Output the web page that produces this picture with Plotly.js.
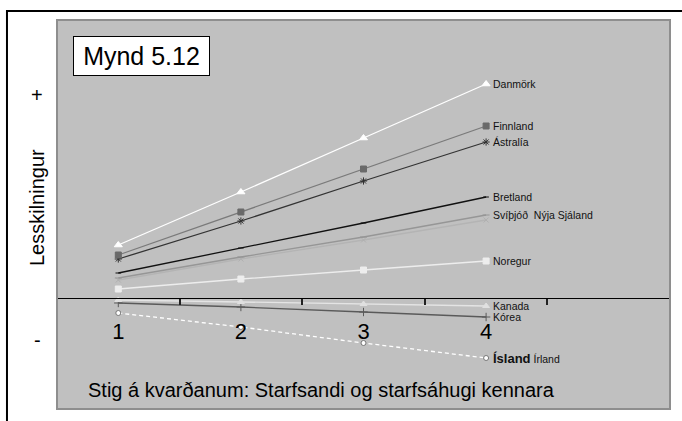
<!DOCTYPE html>
<html>
<head>
<meta charset="utf-8">
<script src="https://cdn.plot.ly/plotly-3.0.1.min.js"></script>
<style>
  html, body { margin: 0; padding: 0; background: #fff; }
  #chart { width: 682px; height: 421px; }
</style>
</head>
<body>
<div id="chart"></div>
<script>
// scale steps on the x axis
let steps = [1, 2, 3, 4];
let stepLabels = ["1", "2", "3", "4"];

// reading score change per country (relative units, 0 = axis)
let danmork = [53, 106, 160, 214];
let finnland = [43, 86, 129, 172];
let astralia = [39, 77, 117, 156];
let bretland = [25, 50, 75, 101];
let svithjod = [20, 41, 61, 83];
let nyjaSjaland = [18, 39, 58, 78];
let noregur = [9, 19, 28, 37];
let kanada = [-2, -4, -6, -8];
let korea = [-5, -9, -14, -19];
let island = [-15, -29, -45, -60];

let font = "Liberation Sans, Arial, sans-serif";

function line(name, y, color, dash, symbol, msize, mcolor, mline) {
  return {
    x: steps, y: y, name: name, type: "scatter", mode: "lines+markers",
    line: { color: color, width: 1.3, dash: dash || "solid" },
    marker: { symbol: symbol, size: msize, color: mcolor,
              line: { color: mline || mcolor, width: 1 } },
  };
}

let data = [
  line("Ísland", island, "#ffffff", "4px,3px", "circle", 5, "#ffffff", "#777777"),
  line("Kórea", korea, "#5a5a5a", null, "cross-thin-open", 6, "#5a5a5a"),
  line("Kanada", kanada, "#e4e4e4", null, "triangle-up", 6, "#e0e0e0"),
  line("Noregur", noregur, "#ededed", null, "square", 6, "#ededed"),
  line("Nýja Sjáland", nyjaSjaland, "#b4b4b4", null, "x-thin-open", 5, "#b0b0b0"),
  line("Svíþjóð", svithjod, "#969696", null, "line-ew-open", 5, "#969696"),
  line("Bretland", bretland, "#111111", null, "line-ew-open", 4, "#111111"),
  line("Ástralía", astralia, "#333333", null, "asterisk-open", 6, "#333333"),
  line("Finnland", finnland, "#7a7a7a", null, "square", 6, "#6a6a6a"),
  line("Danmörk", danmork, "#ffffff", null, "triangle-up", 7, "#ffffff"),
];

// end labels
let endLabels = [
  [danmork, "Danmörk"],
  [finnland, "Finnland"],
  [astralia, "Ástralía"],
  [bretland, "Bretland"],
  [svithjod, "Svíþjóð  Nýja Sjáland"],
  [noregur, "Noregur"],
  [kanada, "Kanada"],
  [korea, "Kórea"],
  [island, "<b style='font-size:13px'>Ísland</b> Írland"],
];

let annotations = endLabels.map(function (d) {
  return {
    x: 4, y: d[0][d[0].length - 1], xref: "x", yref: "y",
    text: d[1], showarrow: false, xanchor: "left", yanchor: "middle", xshift: 5,
    font: { family: font, size: 10.5, color: "#111" },
  };
});

annotations.push(
  { x: 0.0261, y: 0.9589, xref: "paper", yref: "paper", xanchor: "left", yanchor: "top",
    text: "Mynd 5.12", showarrow: false, bgcolor: "#ffffff", bordercolor: "#000000",
    borderwidth: 1, borderpad: 4, width: 127, height: 30,
    font: { family: font, size: 25, color: "#000" } },
  { x: -0.0326, y: 0.8072, xref: "paper", yref: "paper", xanchor: "center", yanchor: "middle",
    text: "+", showarrow: false, font: { family: font, size: 20, color: "#000" } },
  { x: -0.0326, y: 0.1774, xref: "paper", yref: "paper", xanchor: "center", yanchor: "middle",
    text: "-", showarrow: false, font: { family: font, size: 20, color: "#000" } },
  { x: -0.0326, y: 0.5167, xref: "paper", yref: "paper", xanchor: "center", yanchor: "middle",
    text: "Lesskilningur", textangle: -90, showarrow: false,
    font: { family: font, size: 20, color: "#000" } },
  { x: 0.0473, y: 0.0488, xref: "paper", yref: "paper", xanchor: "left", yanchor: "middle",
    text: "Stig á kvarðanum: Starfsandi og starfsáhugi kennara", showarrow: false,
    font: { family: font, size: 20, color: "#000" } }
);

let layout = {
  width: 682, height: 421,
  margin: { l: 57, r: 12, t: 20, b: 12 },
  paper_bgcolor: "#ffffff",
  plot_bgcolor: "#c0c0c0",
  showlegend: false,
  font: { family: font },
  xaxis: {
    range: [0.5, 5.5], anchor: "free", position: 0.2853,
    showline: true, linecolor: "#000", linewidth: 1,
    showgrid: false, zeroline: false,
    tickmode: "array", tickvals: steps, ticktext: stepLabels,
    ticks: "", ticklabelstandoff: 14,
    tickfont: { family: font, size: 22, color: "#000" },
    minor: { tickmode: "array", tickvals: [1.5, 2.5, 3.5, 4.5], ticks: "outside",
             ticklen: 6, tickwidth: 2, tickcolor: "#222", showgrid: false },
  },
  yaxis: {
    range: [-111, 278], showgrid: false, zeroline: false,
    showticklabels: false, showline: false, ticks: "",
  },
  shapes: [
    { type: "rect", xref: "paper", yref: "paper", x0: 0, x1: 1, y0: 0, y1: 1,
      line: { color: "#8e8e8e", width: 2 } },
    { type: "rect", xref: "paper", yref: "paper", x0: -0.0816, x1: 1.05, y0: -0.06, y1: 1.0231,
      line: { color: "#000", width: 2 } },
  ],
  annotations: annotations,
};

Plotly.newPlot("chart", data, layout, { staticPlot: true, displayModeBar: false });
</script>
</body>
</html>
